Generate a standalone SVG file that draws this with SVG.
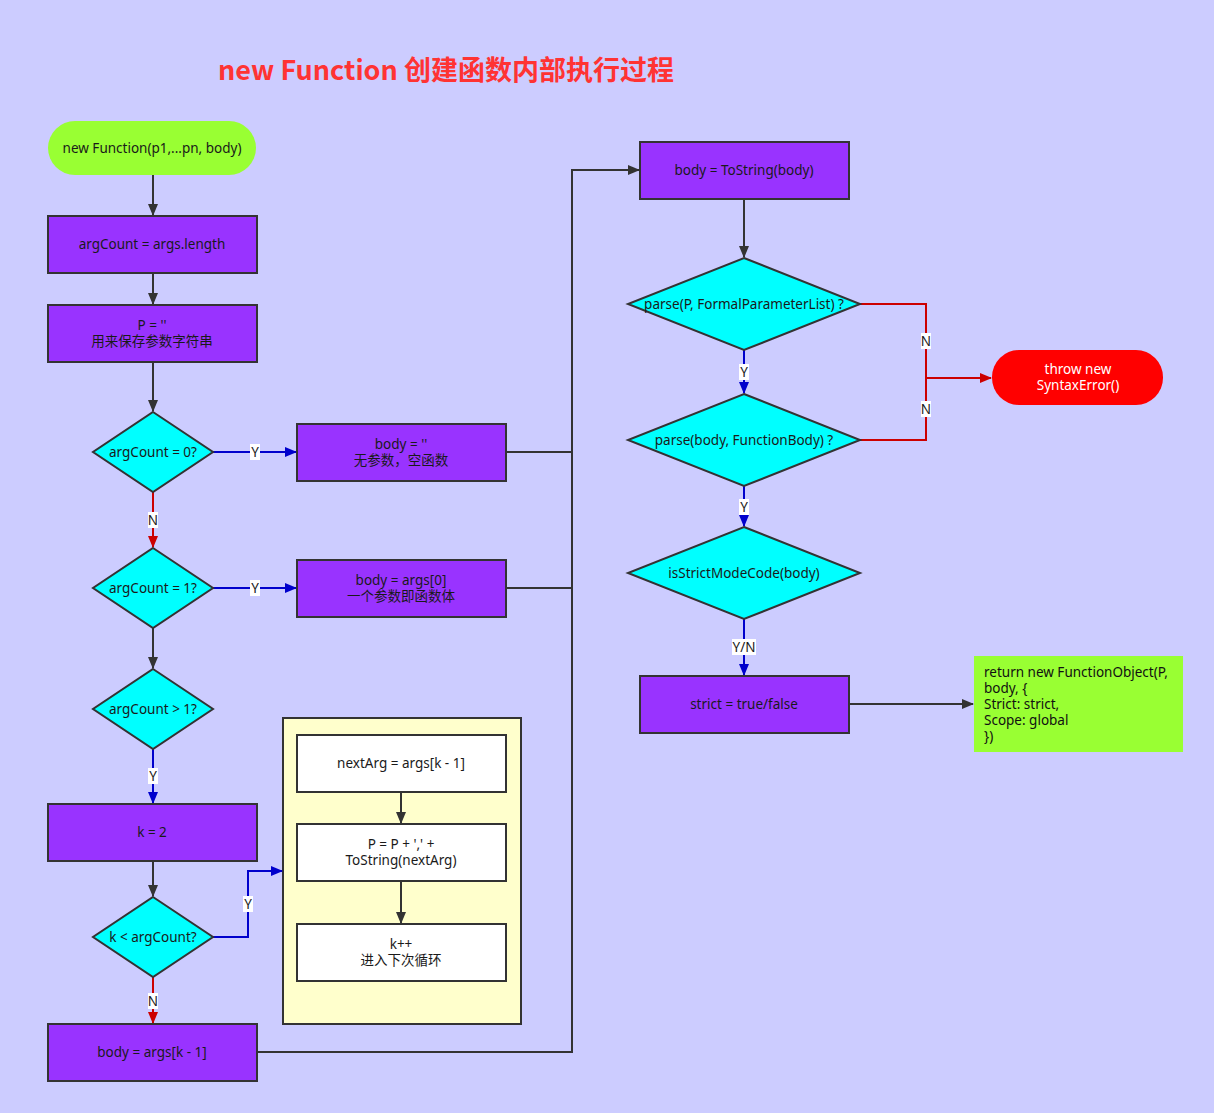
<svg xmlns="http://www.w3.org/2000/svg" width="1214" height="1113" viewBox="0 0 1214 1113">
<defs>
<style>
text{font-family:"Noto Sans","Noto Sans CJK SC",sans-serif;font-size:13.5px;fill:#1a1a1a;text-anchor:middle;dominant-baseline:central}
.purple{fill:#9933FF;stroke:#333;stroke-width:2}
.dia{fill:#00FFFF;stroke:#333;stroke-width:2}
.white{fill:#FFFFFF;stroke:#333;stroke-width:2}
.k{fill:none;stroke:#333;stroke-width:2}
.b{fill:none;stroke:#0000CC;stroke-width:2}
.r{fill:none;stroke:#CC0000;stroke-width:2}
.lbl{fill:#FFFFFF}
</style>
<marker id="ak" markerWidth="12" markerHeight="10" refX="11" refY="5" orient="auto" markerUnits="userSpaceOnUse"><path d="M0,0 L12,5 L0,10 Z" fill="#333"/></marker>
<marker id="ab" markerWidth="12" markerHeight="10" refX="11" refY="5" orient="auto" markerUnits="userSpaceOnUse"><path d="M0,0 L12,5 L0,10 Z" fill="#0000CC"/></marker>
<marker id="ar" markerWidth="12" markerHeight="10" refX="11" refY="5" orient="auto" markerUnits="userSpaceOnUse"><path d="M0,0 L12,5 L0,10 Z" fill="#CC0000"/></marker>
</defs>
<rect x="0" y="0" width="1214" height="1113" fill="#CCCCFF"/>
<text x="446" y="68" style="font-size:27px;font-weight:bold;fill:#FF3333;font-family:'Noto Sans CJK SC','Noto Sans',sans-serif">new Function 创建函数内部执行过程</text>

<g id="loop-container"><rect x="283" y="718" width="238" height="306" fill="#FFFFCC" stroke="#333" stroke-width="2"/></g>

<g id="connectors">
<path class="k" d="M153,175 V215" marker-end="url(#ak)"/>
<path class="k" d="M153,273 V304" marker-end="url(#ak)"/>
<path class="k" d="M153,362 V411" marker-end="url(#ak)"/>
<path class="b" d="M213,452 H296" marker-end="url(#ab)"/>
<path class="r" d="M153,492 V547" marker-end="url(#ar)"/>
<path class="b" d="M213,588 H296" marker-end="url(#ab)"/>
<path class="k" d="M153,628 V668" marker-end="url(#ak)"/>
<path class="b" d="M153,749 V803" marker-end="url(#ab)"/>
<path class="k" d="M153,861 V896" marker-end="url(#ak)"/>
<path class="b" d="M213,937 H248 V871 H282" marker-end="url(#ab)"/>
<path class="r" d="M153,977 V1023" marker-end="url(#ar)"/>
<path class="k" d="M401,792 V823" marker-end="url(#ak)"/>
<path class="k" d="M401,881 V923" marker-end="url(#ak)"/>
<path class="k" d="M506,452 H572"/>
<path class="k" d="M506,588 H572"/>
<path class="k" d="M257,1052 H572 V170 H639" marker-end="url(#ak)"/>
<path class="k" d="M744,199 V257" marker-end="url(#ak)"/>
<path class="b" d="M744,350 V393" marker-end="url(#ab)"/>
<path class="b" d="M744,486 V526" marker-end="url(#ab)"/>
<path class="b" d="M744,619 V675" marker-end="url(#ab)"/>
<path class="k" d="M849,704 H973" marker-end="url(#ak)"/>
<path class="r" d="M860,304 H926 V440 H860"/>
<path class="r" d="M926,378 H991" marker-end="url(#ar)"/>
<g id="labels">
<rect class="lbl" x="250" y="444" width="10" height="16"/><text x="255" y="452">Y</text>
<rect class="lbl" x="148" y="512" width="10" height="16"/><text x="153" y="520">N</text>
<rect class="lbl" x="250" y="580" width="10" height="16"/><text x="255" y="588">Y</text>
<rect class="lbl" x="148" y="768" width="10" height="16"/><text x="153" y="776">Y</text>
<rect class="lbl" x="243" y="896" width="10" height="16"/><text x="248" y="904">Y</text>
<rect class="lbl" x="148" y="993" width="10" height="16"/><text x="153" y="1001">N</text>
<rect class="lbl" x="739" y="364" width="10" height="16"/><text x="744" y="372">Y</text>
<rect class="lbl" x="739" y="499" width="10" height="16"/><text x="744" y="507">Y</text>
<rect class="lbl" x="732" y="639" width="24" height="16"/><text x="744" y="647">Y/N</text>
<rect class="lbl" x="921" y="333" width="10" height="16"/><text x="926" y="341">N</text>
<rect class="lbl" x="921" y="401" width="10" height="16"/><text x="926" y="409">N</text>
</g>
</g>

<g id="start"><rect x="48" y="121" width="208" height="54" rx="27" fill="#99FF33"/><text x="152" y="148">new Function(p1,...pn, body)</text></g>
<g id="argcount"><rect class="purple" x="48" y="216" width="209" height="57"/><text x="152" y="244">argCount = args.length</text></g>
<g id="p-init"><rect class="purple" x="48" y="305" width="209" height="57"/><text x="152" y="325">P = ''</text><text x="152" y="341">用来保存参数字符串</text></g>
<g id="d-zero"><polygon class="dia" points="153,412 213,452 153,492 93,452"/><text x="153" y="452">argCount = 0?</text></g>
<g id="body-empty"><rect class="purple" x="297" y="424" width="209" height="57"/><text x="401" y="444">body = ''</text><text x="401" y="460">无参数，空函数</text></g>
<g id="d-one"><polygon class="dia" points="153,548 213,588 153,628 93,588"/><text x="153" y="588">argCount = 1?</text></g>
<g id="body-arg0"><rect class="purple" x="297" y="560" width="209" height="57"/><text x="401" y="580">body = args[0]</text><text x="401" y="596">一个参数即函数体</text></g>
<g id="d-more"><polygon class="dia" points="153,669 213,709 153,749 93,709"/><text x="153" y="709">argCount &gt; 1?</text></g>
<g id="k-init"><rect class="purple" x="48" y="804" width="209" height="57"/><text x="152" y="832">k = 2</text></g>
<g id="d-loop"><polygon class="dia" points="153,897 213,937 153,977 93,937"/><text x="153" y="937">k &lt; argCount?</text></g>
<g id="body-last"><rect class="purple" x="48" y="1024" width="209" height="57"/><text x="152" y="1052">body = args[k - 1]</text></g>
<g id="next-arg"><rect class="white" x="297" y="735" width="209" height="57"/><text x="401" y="763">nextArg = args[k - 1]</text></g>
<g id="p-append"><rect class="white" x="297" y="824" width="209" height="57"/><text x="401" y="844">P = P + ',' +</text><text x="401" y="860">ToString(nextArg)</text></g>
<g id="k-inc"><rect class="white" x="297" y="924" width="209" height="57"/><text x="401" y="944">k++</text><text x="401" y="960">进入下次循环</text></g>
<g id="to-string"><rect class="purple" x="640" y="142" width="209" height="57"/><text x="744" y="170">body = ToString(body)</text></g>
<g id="d-parse-p"><polygon class="dia" points="744,258 860,304 744,350 628,304"/><text x="744" y="304">parse(P, FormalParameterList) ?</text></g>
<g id="d-parse-body"><polygon class="dia" points="744,394 860,440 744,486 628,440"/><text x="744" y="440">parse(body, FunctionBody) ?</text></g>
<g id="d-strict"><polygon class="dia" points="744,527 860,573 744,619 628,573"/><text x="744" y="573">isStrictModeCode(body)</text></g>
<g id="strict"><rect class="purple" x="640" y="676" width="209" height="57"/><text x="744" y="704">strict = true/false</text></g>
<g id="throw"><rect x="992" y="350" width="171" height="55" rx="27" fill="#FF0000"/><text x="1078" y="369" style="fill:#fff">throw new</text><text x="1078" y="385" style="fill:#fff">SyntaxError()</text></g>
<g id="return"><rect x="974" y="656" width="209" height="96" fill="#99FF33"/>
<text x="984" y="672" style="text-anchor:start;fill:#111">return new FunctionObject(P,</text>
<text x="984" y="688" style="text-anchor:start;fill:#111">body, {</text>
<text x="984" y="704" style="text-anchor:start;fill:#111">Strict: strict,</text>
<text x="984" y="720" style="text-anchor:start;fill:#111">Scope: global</text>
<text x="984" y="736" style="text-anchor:start;fill:#111">})</text></g>
</svg>
